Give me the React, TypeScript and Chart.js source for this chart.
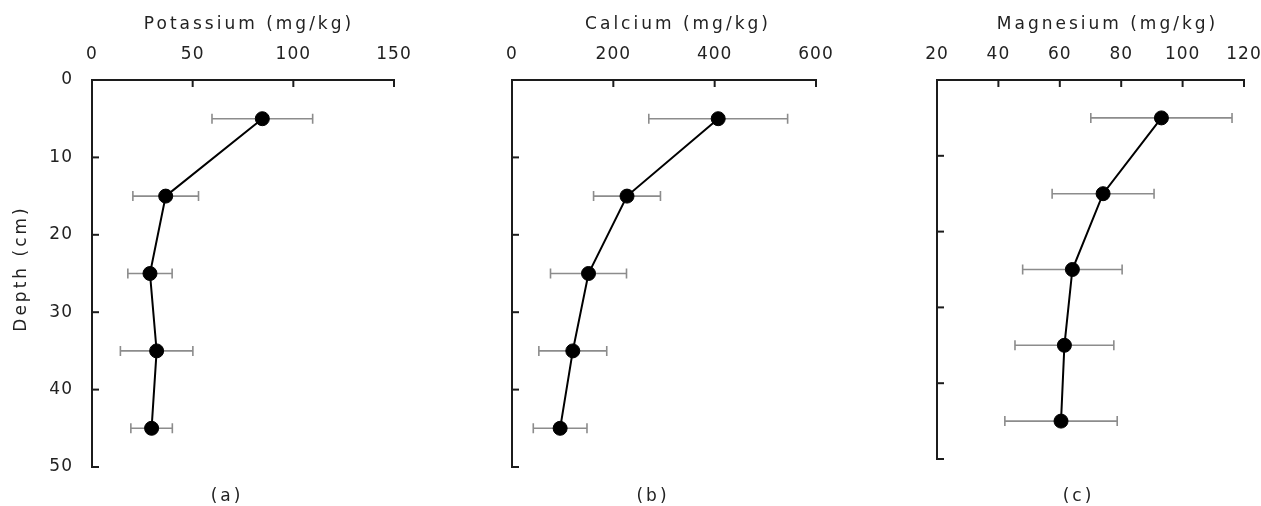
import React, { useEffect, useRef } from 'react';
import { Chart, registerables } from 'chart.js';

Chart.register(...registerables);

// ---- data ----
const depths = [5, 15, 25, 35, 45];
const depthTickStep = 10;
const depthRange = [0, 50];

const potassium = [84.6, 36.6, 28.8, 32.1, 29.6];
const potassiumSd = [25, 16.3, 11, 18, 10.3];
const potassiumRange = [0, 150, 50];

const calcium = [407, 227, 151, 120, 95];
const calciumSd = [137, 66, 75, 67, 53];
const calciumRange = [0, 600, 200];

const magnesium = [93.1, 74.1, 64.1, 61.5, 60.4];
const magnesiumSd = [23, 16.6, 16.2, 16.1, 18.3];
const magnesiumRange = [20, 120, 20];

const titles = ['Potassium (mg/kg)', 'Calcium (mg/kg)', 'Magnesium (mg/kg)'];
const captions = ['(a)', '(b)', '(c)'];
const depthTitle = 'Depth (cm)';

// ---- styles ----
const FONT = '"DejaVu Sans", sans-serif';
const TEXT = '#222';
const AXIS = '#1c1c1c';
const TICK_SPACING = '1px';
const TITLE_SPACING = '3px';

const paperPlugin = {
  id: 'paper',
  beforeLayout(chart: any) {
    chart.ctx.letterSpacing = TICK_SPACING;
  },
  beforeDraw(chart: any) {
    chart.ctx.letterSpacing = TICK_SPACING;
  },
  beforeDatasetsDraw(chart: any, _args: any, opts: any) {
    const { ctx, scales } = chart;
    const x = scales.x;
    const y = scales.y;
    const ds = chart.data.datasets[0];
    const errs: number[] = opts.errors || [];
    ctx.save();
    ctx.strokeStyle = '#8c8c8c';
    ctx.lineWidth = 1.6;
    ds.data.forEach((p: any, i: number) => {
      const yp = y.getPixelForValue(p.y);
      const x1 = x.getPixelForValue(p.x - errs[i]);
      const x2 = x.getPixelForValue(p.x + errs[i]);
      ctx.beginPath();
      ctx.moveTo(x1, yp);
      ctx.lineTo(x2, yp);
      ctx.moveTo(x1, yp - 5);
      ctx.lineTo(x1, yp + 5);
      ctx.moveTo(x2, yp - 5);
      ctx.lineTo(x2, yp + 5);
      ctx.stroke();
    });
    ctx.restore();
  },
  afterDraw(chart: any, _args: any, opts: any) {
    const { ctx, scales, chartArea } = chart;
    const x = scales.x;
    const y = scales.y;
    ctx.save();
    ctx.strokeStyle = AXIS;
    ctx.lineWidth = 2;
    x.ticks.forEach((t: any) => {
      const px = x.getPixelForValue(t.value);
      ctx.beginPath();
      ctx.moveTo(px, chartArea.top);
      ctx.lineTo(px, chartArea.top + 7);
      ctx.stroke();
    });
    y.ticks.forEach((t: any) => {
      const py = y.getPixelForValue(t.value);
      ctx.beginPath();
      ctx.moveTo(chartArea.left, py);
      ctx.lineTo(chartArea.left + 7, py);
      ctx.stroke();
    });
    ctx.fillStyle = TEXT;
    ctx.font = `17px ${FONT}`;
    ctx.letterSpacing = TITLE_SPACING;
    ctx.textAlign = 'center';
    ctx.textBaseline = 'middle';
    const cx = (chartArea.left + chartArea.right) / 2;
    ctx.fillText(opts.title, cx + opts.titleDx, 25);
    ctx.fillText(opts.caption, cx + opts.captionDx, 497);
    if (opts.depthTitle) {
      const cy = (chartArea.top + chartArea.bottom) / 2;
      ctx.translate(22, cy - 5);
      ctx.rotate(-Math.PI / 2);
      ctx.fillText(opts.depthTitle, 0, 0);
    }
    ctx.restore();
  },
};

type PanelCfg = {
  values: number[];
  sd: number[];
  range: number[];
  title: string;
  caption: string;
  showDepthLabels: boolean;
  yWidth: number;
  padRight: number;
  padBottom: number;
  titleDx: number;
  captionDx: number;
};

const panels: PanelCfg[] = [
  { values: potassium, sd: potassiumSd, range: potassiumRange, title: titles[0], caption: captions[0], showDepthLabels: true, yWidth: 92, padRight: 26, padBottom: 39, titleDx: 6, captionDx: -16 },
  { values: calcium, sd: calciumSd, range: calciumRange, title: titles[1], caption: captions[1], showDepthLabels: false, yWidth: 92, padRight: 24, padBottom: 39, titleDx: 14, captionDx: -11 },
  { values: magnesium, sd: magnesiumSd, range: magnesiumRange, title: titles[2], caption: captions[2], showDepthLabels: false, yWidth: 97, padRight: 17, padBottom: 47, titleDx: 17, captionDx: -12 },
];

function Panel({ cfg, left, width }: { cfg: PanelCfg; left: number; width: number }) {
  const ref = useRef<HTMLCanvasElement>(null);
  useEffect(() => {
    if (!ref.current) return;
    const chart = new Chart(ref.current, {
      type: 'scatter',
      data: {
        datasets: [
          {
            data: depths.map((d, i) => ({ x: cfg.values[i], y: d })),
            showLine: true,
            borderColor: '#000',
            backgroundColor: '#000',
            borderWidth: 2,
            pointRadius: 7,
            pointHoverRadius: 7,
            pointBorderWidth: 1,
            pointBackgroundColor: '#000',
            pointBorderColor: '#000',
          },
        ],
      },
      options: {
        responsive: false,
        maintainAspectRatio: false,
        animation: false,
        devicePixelRatio: 1,
        events: [],
        layout: { padding: { left: 0, top: 0, right: cfg.padRight, bottom: cfg.padBottom } },
        plugins: {
          legend: { display: false },
          tooltip: { enabled: false },
          paper: {
            errors: cfg.sd,
            title: cfg.title,
            caption: cfg.caption,
            titleDx: cfg.titleDx,
            captionDx: cfg.captionDx,
            depthTitle: cfg.showDepthLabels ? depthTitle : '',
          },
        } as any,
        scales: {
          x: {
            type: 'linear',
            position: 'top',
            min: cfg.range[0],
            max: cfg.range[1],
            ticks: { stepSize: cfg.range[2], padding: 15, color: TEXT, font: { family: FONT, size: 17 } },
            grid: { display: false, drawTicks: false },
            border: { display: true, color: AXIS, width: 2 },
            afterFit: (s: any) => {
              s.height = 80;
              s.paddingLeft = 0;
              s.paddingRight = 0;
            },
          },
          y: {
            type: 'linear',
            position: 'left',
            reverse: true,
            min: depthRange[0],
            max: depthRange[1],
            ticks: { stepSize: depthTickStep, display: cfg.showDepthLabels, padding: 19, color: TEXT, font: { family: FONT, size: 17 } },
            grid: { display: false, drawTicks: false },
            border: { display: true, color: AXIS, width: 2 },
            title: { display: false },
            afterFit: (s: any) => {
              s.width = cfg.yWidth;
              s.paddingTop = 0;
              s.paddingBottom = 0;
            },
          },
        } as any,
      },
      plugins: [paperPlugin],
    });
    return () => chart.destroy();
  }, [cfg]);
  return (
    <canvas
      ref={ref}
      width={width}
      height={506}
      style={{ position: 'absolute', left, top: 0, width, height: 506, display: 'block' }}
    />
  );
}

export default function App() {
  return (
    <div style={{ position: 'absolute', left: 0, top: 0, width: 1261, height: 506, background: '#fff', overflow: 'hidden' }}>
      <Panel cfg={panels[0]} left={0} width={420} />
      <Panel cfg={panels[1]} left={420} width={420} />
      <Panel cfg={panels[2]} left={840} width={421} />
    </div>
  );
}
